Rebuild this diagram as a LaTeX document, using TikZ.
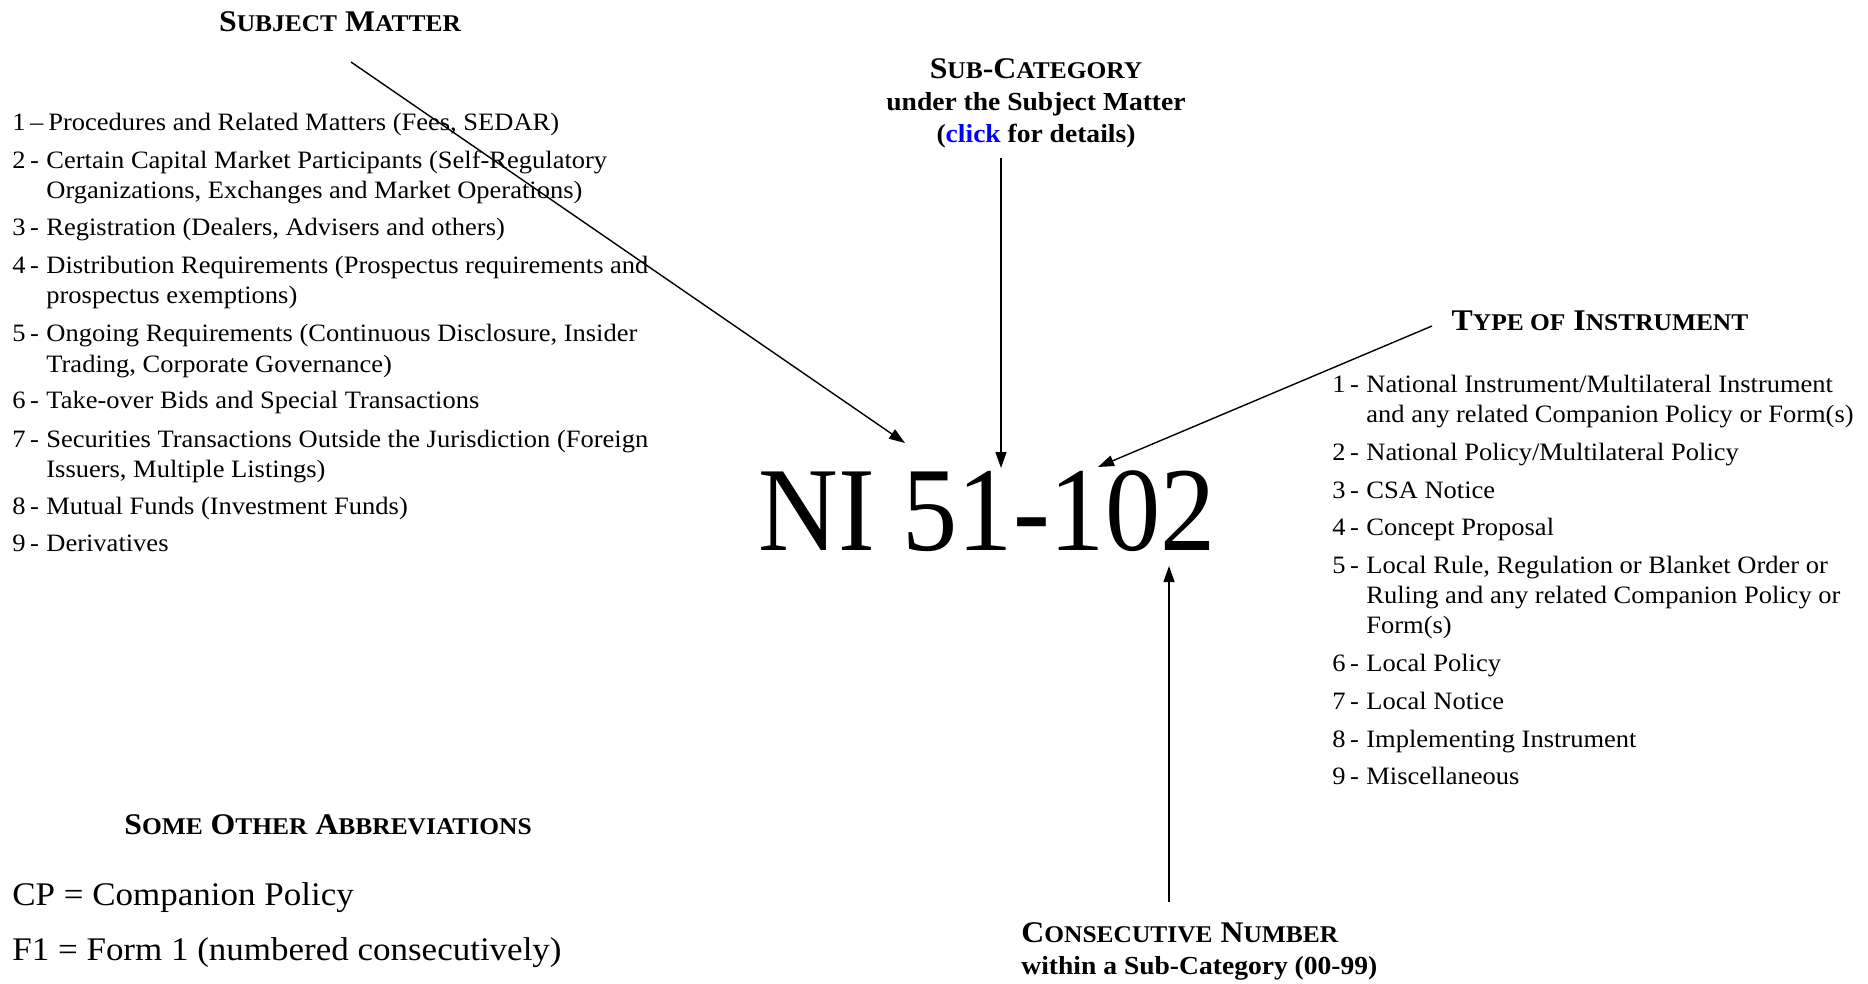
\documentclass[tikz,border=0pt]{standalone}
\usepackage{fontspec}
\setmainfont{Liberation Serif}[FakeStretch=1.06]
\newfontfamily\codefont{Liberation Serif}[FakeStretch=0.92]
\usetikzlibrary{arrows.meta}
\tikzstyle{head} = [font=\fontsize{15}{16}\selectfont\bfseries, inner sep=0pt, anchor=base]
\tikzstyle{note} = [font=\fontsize{13}{16}\selectfont\bfseries, inner sep=0pt]
\tikzstyle{item} = [font=\fontsize{12.5}{15}\selectfont, inner sep=0pt, anchor=base west]
\tikzstyle{abbr} = [font=\fontsize{16.5}{20}\selectfont, inner sep=0pt, anchor=base west]
\tikzstyle{code} = [font=\codefont\fontsize{60}{64}\selectfont, inner sep=0pt, anchor=base]
\tikzstyle{arr} = [-{Triangle[length=8pt,width=5.5pt]}, line width=0.7pt]
\newcommand{\listline}[3][-]{\makebox[17pt][l]{#2\hspace{2.2pt}#1}\parbox[t]{330pt}{\raggedright #3}}
\newcommand{\capsm}[1]{{\fontsize{12}{13}\selectfont #1}}

\begin{document}
\begin{tikzpicture}[x=0.5pt, y=-0.5pt]
	\useasboundingbox (0,0) rectangle (1868,984);
	% the number
	\node (code) [code] at (987,550) {NI 51-102};
	% subject matter
	\node (subj) [head] at (340,32) {S\capsm{UBJECT} M\capsm{ATTER}};
	\node (sm1) [item] at (12,131) {\listline[--]{1}{\hspace{1pt}Procedures and Related Matters (Fees, SEDAR)}};
	\node (sm2) [item] at (12,169) {\listline{2}{Certain Capital Market Participants (Self-Regulatory\\Organizations, Exchanges and Market Operations)}};
	\node (sm3) [item] at (12,236) {\listline{3}{Registration (Dealers, Advisers and others)}};
	\node (sm4) [item] at (12,274) {\listline{4}{Distribution Requirements (Prospectus requirements and\\prospectus exemptions)}};
	\node (sm5) [item] at (12,342) {\listline{5}{Ongoing Requirements (Continuous Disclosure, Insider\\Trading, Corporate Governance)}};
	\node (sm6) [item] at (12,408) {\listline{6}{Take-over Bids and Special Transactions}};
	\node (sm7) [item] at (12,447) {\listline{7}{Securities Transactions Outside the Jurisdiction (Foreign\\Issuers, Multiple Listings)}};
	\node (sm8) [item] at (12,514) {\listline{8}{Mutual Funds (Investment Funds)}};
	\node (sm9) [item] at (12,551) {\listline{9}{Derivatives}};
	% sub-category
	\node (subc) [note, align=center, anchor=base] at (1036,143) {{\fontsize{15}{16}\selectfont S\capsm{UB}-C\capsm{ATEGORY}}\\under the Subject Matter\\(\textcolor{blue}{click} for details)};
	% type of instrument
	\node (type) [head] at (1600,330) {T\capsm{YPE OF} I\capsm{NSTRUMENT}};
	\node (ti1) [item] at (1332,392) {\listline{1}{National Instrument/Multilateral Instrument\\and any related Companion Policy or Form(s)}};
	\node (ti2) [item] at (1332,460) {\listline{2}{National Policy/Multilateral Policy}};
	\node (ti3) [item] at (1332,498) {\listline{3}{CSA Notice}};
	\node (ti4) [item] at (1332,535) {\listline{4}{Concept Proposal}};
	\node (ti5) [item] at (1332,573) {\listline{5}{Local Rule, Regulation or Blanket Order or\\Ruling and any related Companion Policy or\\Form(s)}};
	\node (ti6) [item] at (1332,671) {\listline{6}{Local Policy}};
	\node (ti7) [item] at (1332,709) {\listline{7}{Local Notice}};
	\node (ti8) [item] at (1332,747) {\listline{8}{Implementing Instrument}};
	\node (ti9) [item] at (1332,784) {\listline{9}{Miscellaneous}};
	% consecutive number
	\node (cons) [note, align=left, anchor=base west] at (1021,974) {{\fontsize{15}{16}\selectfont C\capsm{ONSECUTIVE} N\capsm{UMBER}}\\within a Sub-Category (00-99)};
	% abbreviations
	\node (other) [head] at (328,834) {S\capsm{OME} O\capsm{THER} A\capsm{BBREVIATIONS}};
	\node (cp) [abbr] at (12,905) {CP = Companion Policy};
	\node (f1) [abbr] at (12,960) {F1 = Form 1 (numbered consecutively)};
	% arrow ends
	\coordinate (subjfrom) at (351,62);
	\coordinate (subjto) at (905,443);
	\coordinate (subcfrom) at (1001,158);
	\coordinate (subcto) at (1001,468);
	\coordinate (typefrom) at (1432,326);
	\coordinate (typeto) at (1098,467);
	\coordinate (consfrom) at (1169,902);
	\coordinate (consto) at (1169,566);
	\draw [arr] (subjfrom) -- (subjto);
	\draw [arr] (subcfrom) -- (subcto);
	\draw [arr] (typefrom) -- (typeto);
	\draw [arr] (consfrom) -- (consto);
\end{tikzpicture}
\end{document}
